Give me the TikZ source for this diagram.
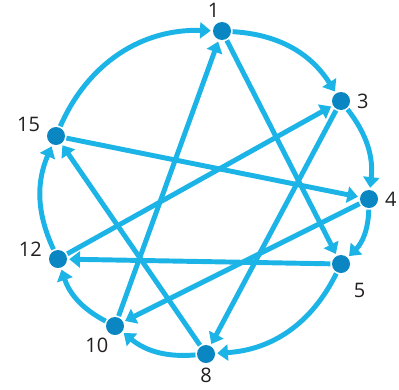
\documentclass[tikz,border=0pt]{standalone}
\usepackage{fontspec}
\newfontfamily\labfont{Open Sans}
\usetikzlibrary{arrows.meta}
\definecolor{Ec}{HTML}{1CB4E6}
\definecolor{Vc}{HTML}{0A86C2}
\definecolor{Tc}{HTML}{231F20}
\tikzset{
  vtx/.style={circle, fill=Vc, inner sep=0pt, minimum size=13.5pt},
  lab/.style={font=\labfont\fontsize{15pt}{15pt}\selectfont, text=Tc, inner sep=1pt},
  edge/.style={-{Triangle[width=12pt, length=8pt]}, line width=3.7pt, draw=Ec, shorten >=1.5pt, shorten <=1pt},
  rim/.style={edge, bend left=#1},
  rim/.default=22,
}
\begin{document}
\begin{tikzpicture}[x=0.75pt, y=-0.75pt]
  \useasboundingbox (0,0) rectangle (399,389);
  \node[vtx, label={[lab, label distance=2pt]95:1}] (n1) at (222,31) {};
  \node[vtx, label={[lab, label distance=4pt]0:3}] (n3) at (341,101) {};
  \node[vtx, label={[lab, label distance=4pt]0:4}] (n4) at (369,199) {};
  \node[vtx, label={[lab, label distance=9pt]-58:5}] (n5) at (341,264) {};
  \node[vtx, label={[lab, label distance=2pt]-90:8}] (n8) at (206,354) {};
  \node[vtx, label={[lab, label distance=2pt]-115:10}] (n10) at (115,326) {};
  \node[vtx, label={[lab, label distance=4pt]175:12}] (n12) at (58,259) {};
  \node[vtx, label={[lab, label distance=4pt]170:15}] (n15) at (56,136) {};
  % around the ring
  \draw[rim=27] (n1) to (n3);
  \draw[rim] (n3) to (n4);
  \draw[rim] (n4) to (n5);
  \draw[rim=30] (n5) to (n8);
  \draw[rim] (n8) to (n10);
  \draw[rim] (n10) to (n12);
  \draw[rim=24] (n12) to (n15);
  \draw[rim=34] (n15) to (n1);
  % chords
  \foreach \a/\b in {n1/n5, n10/n1, n3/n8, n12/n3, n15/n4, n4/n10, n5/n12, n8/n15}
    \draw[edge] (\a) -- (\b);
\end{tikzpicture}
\end{document}
